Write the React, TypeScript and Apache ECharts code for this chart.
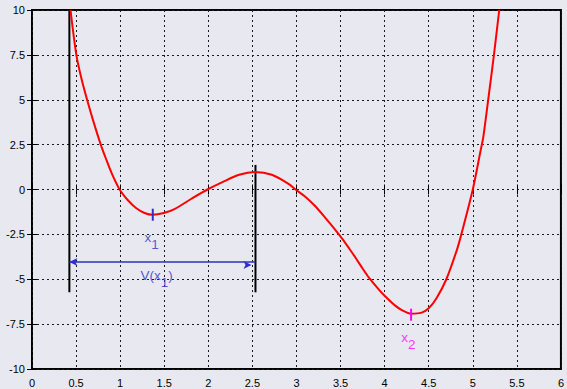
import React, { useEffect, useRef } from "react";
import * as echarts from "echarts";

// Potential curve
const curveX = [0.437, 0.503, 0.56, 0.625, 0.693, 0.78, 0.84, 0.9, 0.994, 1.088, 1.18, 1.277, 1.37, 1.495, 1.616, 1.82, 1.99, 2.16, 2.35, 2.53, 2.72, 2.915, 2.99, 3.1, 3.217, 3.33, 3.44, 3.52, 3.6, 3.67, 3.75, 3.82, 3.93, 4.0, 4.12, 4.2, 4.3, 4.42, 4.5, 4.59, 4.7, 4.82, 4.87, 5.0, 5.09, 5.12, 5.175, 5.24, 5.3];
const curveY = [10, 7.5, 6.2, 5.0, 3.85, 2.5, 1.7, 0.95, 0.0, -0.6, -1.03, -1.31, -1.41, -1.31, -1.09, -0.48, 0.0, 0.41, 0.82, 0.97, 0.82, 0.3, 0.0, -0.4, -0.95, -1.6, -2.25, -2.75, -3.3, -3.8, -4.4, -4.9, -5.55, -5.92, -6.47, -6.73, -6.92, -6.86, -6.62, -6.04, -5.0, -3.36, -2.5, 0.0, 2.2, 2.95, 5.0, 7.5, 10];

// Vertical black walls
const wallX = [0.424, 2.535];
const wallTop = [10, 1.37];
const wallBottom = [-5.73, -5.73];

// Double arrow V(x1)
const arrowFromX = 0.424;
const arrowToX = 2.535;
const arrowY = -4.04;

// Point markers: [x, yTop, yBottom]
const x1Mark = [1.37, -1.07, -1.74];
const x2Mark = [4.3, -6.64, -7.31];

// Annotation labels
const labelMain = ["x", "V(x", "x"];
const labelSub = ["1", "1", "2"];
const labelTail = ["", ")", ""];
const labelX = [1.356, 1.415, 4.27];
const labelY = [-2.66, -4.77, -8.22];
const labelColor = ["#2f2fc8", "#2f2fc8", "#ff00ff"];

const X_MIN = 0, X_MAX = 6, X_INT = 0.5;
const Y_MIN = -10, Y_MAX = 10, Y_INT = 2.5;

const BG = "#e8e8f0";
const FONT = "Liberation Sans";

export default function App() {
  const ref = useRef<HTMLDivElement>(null);
  useEffect(() => {
    if (!ref.current) return;
    const chart = echarts.init(ref.current, undefined, { renderer: "svg" });

    const curveData = curveX.map((x, i) => [x, curveY[i]]);

    const wallSeries = wallX.map((x, i) => ({
      type: "line",
      data: [[x, wallTop[i]], [x, wallBottom[i]]],
      symbol: "none",
      lineStyle: { color: "#000", width: 2 },
      silent: true,
      z: 3,
    }));

    const tickSeries = (m: number[], color: string) => ({
      type: "line",
      data: [[m[0], m[1]], [m[0], m[2]]],
      symbol: "none",
      lineStyle: { color, width: 2 },
      silent: true,
      z: 5,
    });

    const labelData = labelMain.map((t, i) => ({
      value: [labelX[i], labelY[i]],
      label: {
        show: true,
        position: "inside",
        formatter: `{m|${t}}{s|${labelSub[i]}}` + (labelTail[i] ? `{m|${labelTail[i]}}` : ""),
        rich: {
          m: { fontSize: 13.5, fontFamily: FONT, color: labelColor[i] },
          s: { fontSize: 13.5, fontFamily: FONT, color: labelColor[i], padding: [14, 0, 0, 0] },
        },
      },
    }));

    const axisCommonX = { type: "value", min: X_MIN, max: X_MAX, interval: X_INT };
    const axisCommonY = { type: "value", min: Y_MIN, max: Y_MAX, interval: Y_INT };
    const tick = { show: true, inside: true, length: 5, lineStyle: { color: "#000" } };
    const split = { show: true, lineStyle: { color: "#1a1a1a", type: [2, 3], width: 1 } };

    chart.setOption({
      animation: false,
      backgroundColor: BG,
      grid: {
        left: 32,
        right: 4,
        top: 10,
        bottom: 20,
        show: true,
        backgroundColor: BG,
        borderColor: "#000",
        borderWidth: 2,
      },
      xAxis: [
        {
          ...axisCommonX,
          position: "bottom",
          axisLine: { show: false },
          axisTick: tick,
          axisLabel: { color: "#000", fontSize: 11, fontFamily: FONT, margin: 8 },
          splitLine: split,
        },
        {
          ...axisCommonX,
          position: "top",
          axisLine: { show: false },
          axisTick: tick,
          axisLabel: { show: false },
          splitLine: { show: false },
        },
      ],
      yAxis: [
        {
          ...axisCommonY,
          position: "left",
          axisLine: { show: false },
          axisTick: tick,
          axisLabel: { color: "#000", fontSize: 11, fontFamily: FONT, margin: 7 },
          splitLine: split,
        },
        {
          ...axisCommonY,
          position: "right",
          axisLine: { show: false },
          axisTick: tick,
          axisLabel: { show: false },
          splitLine: { show: false },
        },
      ],
      series: [
        {
          type: "line",
          data: curveData,
          smooth: 0.3,
          symbol: "none",
          clip: true,
          lineStyle: { color: "#ff0000", width: 2 },
          silent: true,
          z: 4,
          markLine: {
            silent: true,
            symbol: ["arrow", "arrow"],
            symbolSize: [6, 8],
            symbolOffset: [0, "50%"],
            label: { show: false },
            lineStyle: { color: "#2f2fc8", width: 1.5, type: "solid" },
            data: [[{ coord: [arrowFromX, arrowY] }, { coord: [arrowToX, arrowY] }]],
          },
        },
        ...wallSeries,
        tickSeries(x1Mark, "#2f2fc8"),
        tickSeries(x2Mark, "#ff00ff"),
        { type: "scatter", symbolSize: 0, silent: true, data: labelData, z: 6 },
      ],
    });
    return () => chart.dispose();
  }, []);
  return (
    <div
      ref={ref}
      style={{ position: "absolute", left: 0, top: 0, width: 567, height: 389 }}
    />
  );
}
